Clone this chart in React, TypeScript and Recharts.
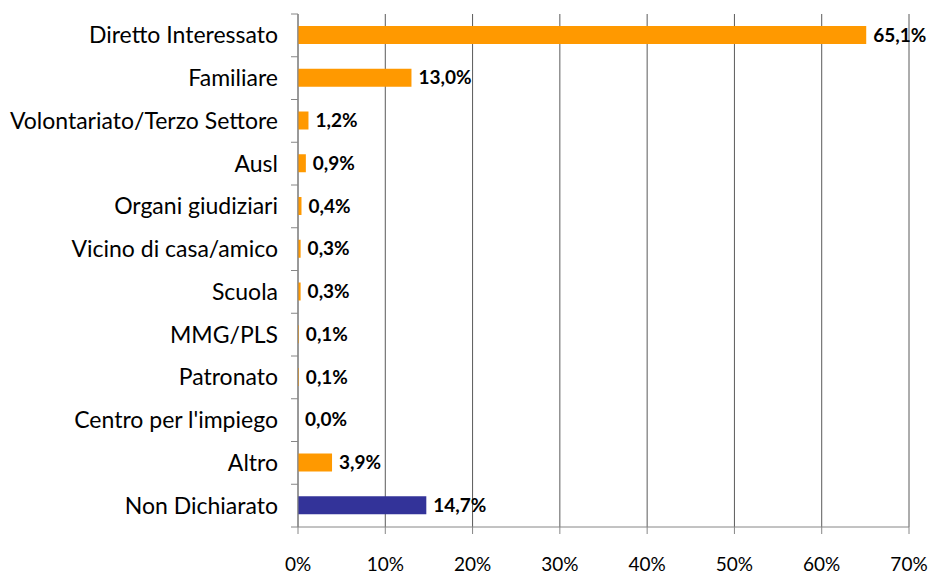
import { Bar, BarChart, CartesianGrid, Cell, LabelList, XAxis, YAxis } from "recharts";

const categories = [
  "Diretto Interessato",
  "Familiare",
  "Volontariato/Terzo Settore",
  "Ausl",
  "Organi giudiziari",
  "Vicino di casa/amico",
  "Scuola",
  "MMG/PLS",
  "Patronato",
  "Centro per l'impiego",
  "Altro",
  "Non Dichiarato",
];

const shares = [65.1, 13.0, 1.2, 0.9, 0.4, 0.3, 0.3, 0.1, 0.1, 0.0, 3.9, 14.7];

const xTicks = [0, 10, 20, 30, 40, 50, 60, 70];

const data = categories.map((name, i) => ({ name, value: shares[i] }));

const ORANGE = "#FF9900";
const NAVY = "#333399";
const AXIS = "#868686";
const FONT = "Lato, 'Liberation Sans', sans-serif";
const BAND = 42.75;
const AXIS_X = 298;

const CategoryTick = (props: any) => {
  const { y, payload, index } = props;
  const last = index === categories.length - 1;
  return (
    <g>
      <line x1={AXIS_X - 7} x2={AXIS_X} y1={y - BAND / 2} y2={y - BAND / 2} stroke={AXIS} />
      {last && <line x1={AXIS_X - 7} x2={AXIS_X} y1={y + BAND / 2} y2={y + BAND / 2} stroke={AXIS} />}
      <text x={AXIS_X - 20} y={y} dy={8} textAnchor="end" fontSize={23} fontFamily={FONT} fill="#000">
        {payload.value}
      </text>
    </g>
  );
};

export default function App() {
  return (
    <div>
      <style>{"body{margin:0}"}</style>
      <BarChart
        width={930}
        height={576}
        data={data}
        layout="vertical"
        margin={{ top: 14, right: 21, bottom: 0, left: 0 }}
        barSize={18}
      >
        <CartesianGrid horizontal={false} vertical stroke="#5a5a5a" />
        <XAxis
          type="number"
          domain={[0, 70]}
          ticks={xTicks}
          tickFormatter={(v: number) => `${v}%`}
          axisLine={{ stroke: AXIS }}
          tickLine={{ stroke: AXIS }}
          tickSize={7}
          tickMargin={24}
          height={49}
          tick={{ fontSize: 19, fontFamily: FONT, fill: "#000" }}
          interval={0}
        />
        <YAxis
          type="category"
          dataKey="name"
          width={AXIS_X}
          axisLine={{ stroke: AXIS }}
          tickLine={false}
          tick={<CategoryTick />}
          interval={0}
        />
        <Bar dataKey="value" isAnimationActive={false} minPointSize={0.01}>
          {data.map((d, i) => (
            <Cell key={d.name} fill={i === data.length - 1 ? NAVY : ORANGE} />
          ))}
          <LabelList
            dataKey="value"
            position="right"
            offset={7}
            formatter={(v: any) => `${Number(v).toFixed(1).replace(".", ",")}%`}
            style={{ fontSize: 19, fontWeight: 700, fontFamily: FONT, fill: "#000" }}
          />
        </Bar>
      </BarChart>
    </div>
  );
}
